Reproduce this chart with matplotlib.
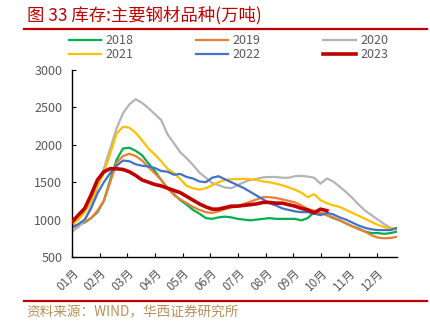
import numpy as np
import matplotlib
matplotlib.use("Agg")
import matplotlib.pyplot as plt
from matplotlib.lines import Line2D

plt.rcParams['font.family'] = ['Noto Sans CJK SC', 'DejaVu Sans']

# weekly inventory, 万吨
y2018 = [900, 930, 960, 1020, 1100, 1250, 1530, 1800, 1950, 1960, 1920, 1860, 1750,
         1650, 1530, 1420, 1340, 1260, 1200, 1130, 1080, 1020, 1010, 1030, 1040, 1030,
         1010, 1000, 990, 1000, 1010, 1020, 1010, 1010, 1010, 1010, 990, 1020, 1100,
         1090, 1060, 1020, 990, 950, 910, 880, 840, 820, 820, 810, 820, 840]
y2019 = [890, 920, 970, 1020, 1120, 1250, 1500, 1760, 1850, 1880, 1850, 1790, 1700,
         1620, 1530, 1420, 1330, 1270, 1220, 1170, 1130, 1100, 1090, 1110, 1140, 1160,
         1180, 1210, 1240, 1270, 1300, 1300, 1290, 1270, 1250, 1230, 1190, 1140, 1120,
         1090, 1060, 1030, 990, 950, 910, 870, 840, 790, 760, 750, 755, 770]
y2020 = [840, 900, 990, 1180, 1430, 1680, 1950, 2220, 2420, 2540, 2610, 2560, 2490,
         2410, 2330, 2140, 2020, 1900, 1820, 1730, 1630, 1560, 1490, 1460, 1430, 1420,
         1460, 1500, 1530, 1545, 1565, 1570, 1570, 1560, 1560, 1580, 1585, 1575, 1560,
         1480, 1550, 1510, 1440, 1370, 1290, 1200, 1120, 1060, 1000, 940, 890, 860]
y2021 = [930, 1000, 1100, 1250, 1450, 1620, 1880, 2150, 2240, 2230, 2160, 2060, 1950,
         1870, 1780, 1680, 1620, 1540, 1450, 1420, 1400, 1420, 1460, 1500, 1530, 1540,
         1540, 1545, 1540, 1530, 1510, 1500, 1480, 1460, 1430, 1400, 1360, 1300, 1340,
         1260, 1220, 1190, 1170, 1130, 1090, 1050, 1010, 970, 930, 900, 880, 880]
y2022 = [900, 940, 1000, 1150, 1350, 1500, 1620, 1720, 1790, 1780, 1740, 1720, 1710,
         1690, 1650, 1640, 1600, 1610, 1570, 1550, 1510, 1500, 1560, 1580, 1540, 1500,
         1460, 1420, 1370, 1320, 1270, 1220, 1190, 1150, 1130, 1110, 1100, 1100, 1080,
         1060, 1090, 1070, 1030, 1000, 960, 920, 890, 870, 860, 860, 860, 890]
y2023 = [970, 1060, 1150, 1330, 1530, 1640, 1680, 1680, 1670, 1640, 1590, 1530, 1500,
         1470, 1450, 1420, 1390, 1360, 1310, 1260, 1210, 1170, 1140, 1140, 1160, 1180,
         1180, 1190, 1200, 1210, 1230, 1230, 1220, 1220, 1200, 1180, 1150, 1130, 1090,
         1140, 1120]

months = ['01月', '02月', '03月', '04月', '05月', '06月',
          '07月', '08月', '09月', '10月', '11月', '12月']

series = [
    ('2018', y2018, '#00b050', 1.6),
    ('2019', y2019, '#ed7d31', 1.6),
    ('2020', y2020, '#b4b4b4', 1.6),
    ('2021', y2021, '#ffc000', 1.6),
    ('2022', y2022, '#4472c4', 1.6),
    ('2023', y2023, '#c00000', 2.6),
]

fig = plt.figure(figsize=(4.31, 3.27), dpi=100)
ax = fig.add_axes([0.167, 0.214, 0.754, 0.572])

handles = {}
for name, vals, color, lw in series:
    ln, = ax.plot(np.arange(len(vals)), vals, color=color, lw=lw,
                  solid_joinstyle='round', label=name, zorder=3 if name == '2023' else 2)
    handles[name] = ln

ax.set_xlim(0, 51)
ax.set_ylim(500, 3000)
ax.set_yticks(np.arange(500, 3001, 500))
ax.set_xticks(np.arange(12) * 4.345)
ax.set_xticklabels(months, rotation=45, ha='right', va='top', rotation_mode='anchor')
for s in ['top', 'right']:
    ax.spines[s].set_visible(False)
for s in ['left', 'bottom']:
    ax.spines[s].set_color('black')
    ax.spines[s].set_linewidth(1.0)
ax.tick_params(axis='y', direction='in', length=3, labelsize=9, colors='black',
               labelcolor='#595959', pad=7)
ax.tick_params(axis='x', direction='in', length=3, labelsize=8.5, colors='black',
               labelcolor='#595959', pad=7)

order = ['2018', '2021', '2019', '2022', '2020', '2023']
leg = fig.legend([handles[k] for k in order], order, ncol=3, frameon=False,
                 loc='upper left', bbox_to_anchor=(0.133, 0.93),
                 handlelength=2.6, handletextpad=0.35, columnspacing=5.0,
                 labelspacing=0.1, fontsize=9)
for t in leg.get_texts():
    t.set_color('#595959')

fig.text(0.062, 0.953, '图 33 库存:主要钢材品种(万吨)', color='#c00000',
         fontsize=12.5, va='center', ha='left')
fig.add_artist(Line2D([0.056, 0.99], [0.911, 0.911], color='#c00000', lw=1.6))
fig.add_artist(Line2D([0.056, 0.99], [0.079, 0.079], color='#c00000', lw=1.6))
fig.text(0.062, 0.045, '资料来源：WIND，华西证券研究所', color='#b8925a',
         fontsize=9.8, va='center', ha='left')

fig.savefig('out.png', dpi=100)
